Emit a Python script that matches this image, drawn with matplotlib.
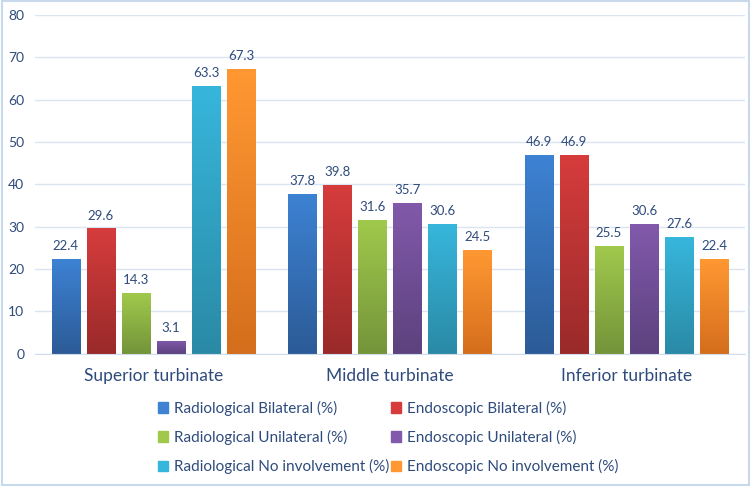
import numpy as np
import matplotlib.pyplot as plt
from matplotlib.colors import LinearSegmentedColormap
from matplotlib.patches import Rectangle

categories = ['Superior turbinate', 'Middle turbinate', 'Inferior turbinate']
series = ['Radiological Bilateral (%)', 'Endoscopic Bilateral (%)',
          'Radiological Unilateral (%)', 'Endoscopic Unilateral (%)',
          'Radiological No involvement (%)', 'Endoscopic No involvement (%)']
rad_bilateral = [22.4, 37.8, 46.9]
endo_bilateral = [29.6, 39.8, 46.9]
rad_unilateral = [14.3, 31.6, 25.5]
endo_unilateral = [3.1, 35.7, 30.6]
rad_none = [63.3, 30.6, 27.6]
endo_none = [67.3, 24.5, 22.4]
values = [rad_bilateral, endo_bilateral, rad_unilateral, endo_unilateral, rad_none, endo_none]

# (top colour, bottom colour) for the Excel-style gradient
grad = [('#3d82d3', '#2c5b97'), ('#d63c3c', '#9a2a2a'), ('#a0c94c', '#74943a'),
        ('#8259ab', '#5c427e'), ('#37b6dc', '#2a8aa6'), ('#ff9832', '#d56e1c')]

txt = '#2e4b7c'
plt.rcParams['font.family'] = ['Lato', 'DejaVu Sans']

fig = plt.figure(figsize=(7.5, 4.86), dpi=100)
ax = fig.add_axes([0.047, 0.272, 0.946, 0.697])

x = np.arange(len(categories))
step = 0.148
width = 0.12
grid_img = np.linspace(0, 1, 100).reshape(-1, 1)
for i, (name, vals) in enumerate(zip(series, values)):
    pos = x + (i - 2.5) * step
    bars = ax.bar(pos, vals, width, color='none', edgecolor='none', label=name, zorder=2)
    cmap = LinearSegmentedColormap.from_list('g', [grad[i][1], grad[i][0]])
    for b, v in zip(bars, vals):
        im = ax.imshow(grid_img, cmap=cmap, aspect='auto', origin='lower',
                       extent=[b.get_x(), b.get_x() + b.get_width(), 0, v], zorder=2)
        im.set_clip_path(b)
        ax.annotate(f'{v}', (b.get_x() + b.get_width() / 2, v), xytext=(0, 5),
                    textcoords='offset points', ha='center', va='bottom',
                    fontsize=9.5, color=txt)

ax.set_xlim(-0.5, 2.5)
ax.set_ylim(0, 80)
ax.set_yticks(range(0, 81, 10))
ax.set_xticks(x)
ax.set_xticklabels(categories, fontsize=12.5, color=txt)
ax.tick_params(axis='y', labelsize=10, colors=txt, length=0, pad=8)
ax.tick_params(axis='x', length=0, pad=10)
ax.grid(axis='y', color='#dbe5f1', linewidth=1, zorder=0)
ax.set_axisbelow(True)
for s in ['top', 'right', 'left']:
    ax.spines[s].set_visible(False)
ax.spines['bottom'].set_color('#d0dcec')

# legend fills column by column, so order handles to read row by row
order = [0, 2, 4, 1, 3, 5]
handles = [Rectangle((0, 0), 1, 1, color=grad[k][0]) for k in order]
labels = [series[k] for k in order]
fig.legend(handles, labels, loc='upper left', bbox_to_anchor=(0.203, 0.188),
           ncol=2, frameon=False, fontsize=11, labelcolor=txt,
           handlelength=0.65, handleheight=0.65, handletextpad=0.4,
           columnspacing=0.1, labelspacing=0.92, borderaxespad=0)

fig.patches.append(Rectangle((0.002, 0.003), 0.996, 0.994, transform=fig.transFigure,
                             fill=False, edgecolor='#c9d9ec', linewidth=1.5))
fig.savefig('out.png', dpi=100)
